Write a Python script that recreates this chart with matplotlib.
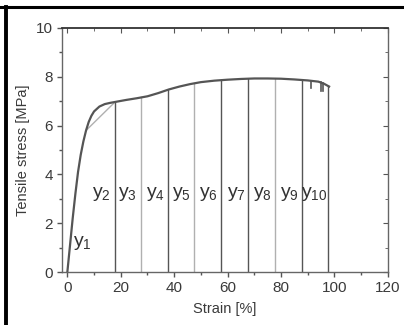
import matplotlib
matplotlib.use("Agg")
import matplotlib.pyplot as plt
import numpy as np

# stress-strain curve
strain = [0, 1, 2, 3, 4, 5, 6, 7, 8, 9, 10, 12, 14, 16, 18, 22, 26, 30,
          34, 38, 42, 46, 50, 55, 60, 65, 70, 75, 80, 85, 90, 94, 96, 98]
stress = [0, 1.1, 2.2, 3.2, 4.1, 4.8, 5.35, 5.8, 6.15, 6.4, 6.58, 6.78, 6.88,
          6.93, 6.97, 7.05, 7.12, 7.2, 7.33, 7.48, 7.6, 7.7, 7.78, 7.84, 7.88,
          7.91, 7.93, 7.93, 7.92, 7.89, 7.85, 7.8, 7.72, 7.6]

# straight fit across the knee
chord_x = [7, 17.7]
chord_y = [5.8, 6.95]

# segment boundaries, and whether each is drawn dark
bounds = [17.7, 27.7, 37.5, 47.5, 57.7, 67.7, 77.7, 87.7, 97.7]
dark = [True, False, True, False, True, True, False, True, True]

# small drops near the end of the test
drop_x = [91.3, 94.8, 95.7]
drop_y = [7.55, 7.42, 7.4]

seg_labels = ["y_{%d}" % i for i in range(1, 11)]
label_x = [2.3, 9.4, 19.0, 29.4, 39.0, 49.2, 59.6, 69.6, 79.8, 87.3]
label_y = [1.2, 3.2, 3.2, 3.2, 3.2, 3.2, 3.2, 3.2, 3.2, 3.2]

plt.rcParams["font.family"] = ["Liberation Sans", "DejaVu Sans"]
plt.rcParams["mathtext.fontset"] = "custom"
plt.rcParams["mathtext.rm"] = "Liberation Sans"
plt.rcParams["mathtext.it"] = "Liberation Sans"

fig = plt.figure(figsize=(4.04, 3.25), dpi=100)
ax = fig.add_axes([0.1535, 0.163, 0.8065, 0.751])

gray = "#555555"
light = "#b0b0b0"

for b, d in zip(bounds, dark):
    top = np.interp(b, strain, stress)
    ax.plot([b, b], [0, top], color=gray if d else light, lw=1.0, zorder=2)

for x, y in zip(drop_x, drop_y):
    ax.plot([x, x], [np.interp(x, strain, stress), y], color=gray, lw=1.2)

ax.plot(chord_x, chord_y, color=light, lw=1.0, zorder=2)
ax.plot(strain, stress, color=gray, lw=1.6, zorder=3)

for lab, x, y in zip(seg_labels, label_x, label_y):
    ax.text(x, y, r"$\mathregular{%s}$" % lab, fontsize=14, color="#333333",
            ha="left", va="center")

ax.set_xlim(-2, 120)
ax.set_ylim(0, 10)
ax.set_xticks(np.arange(0, 121, 20))
ax.set_xticks(np.arange(10, 120, 20), minor=True)
ax.set_yticks(np.arange(0, 11, 2))
ax.set_yticks(np.arange(1, 10, 2), minor=True)
ax.tick_params(which="both", direction="out", colors="#555555",
               labelcolor="#3a3a3a", labelsize=11, width=1.0)
ax.tick_params(which="major", length=3.5)
ax.tick_params(which="minor", length=2)
ax.tick_params(axis="x", pad=3)
ax.tick_params(axis="y", pad=3)

# mirrored ticks on top and right, pointing inward
ax2 = ax.secondary_xaxis("top")
ax2.set_xticks(np.arange(0, 121, 20))
ax2.set_xticks(np.arange(10, 120, 20), minor=True)
ax2.tick_params(which="both", direction="in", labeltop=False, colors="#555555")
ax2.tick_params(which="major", length=3.5)
ax2.tick_params(which="minor", length=2)
ax3 = ax.secondary_yaxis("right")
ax3.set_yticks(np.arange(0, 11, 2))
ax3.set_yticks(np.arange(1, 10, 2), minor=True)
ax3.tick_params(which="both", direction="in", labelright=False, colors="#555555")
ax3.tick_params(which="major", length=3.5)
ax3.tick_params(which="minor", length=2)

for s in ax.spines.values():
    s.set_color("#666666")
    s.set_linewidth(1.0)
ax.spines["top"].set_color("#333333")
ax.spines["top"].set_linewidth(1.3)
ax2.spines["top"].set_visible(False)
ax3.spines["right"].set_visible(False)

ax.set_xlabel("Strain [%]", fontsize=10.5, color="#3a3a3a", labelpad=5)
ax.set_ylabel("Tensile stress [MPa]", fontsize=10.5, color="#3a3a3a", labelpad=4)

# black frame lines at the top and left of the image
fig.add_artist(plt.Line2D([0.0, 1.0], [1 - 7 / 325, 1 - 7 / 325],
                          transform=fig.transFigure, color="black", lw=2.2))
fig.add_artist(plt.Line2D([5.5 / 404, 5.5 / 404], [0, 1 - 7 / 325],
                          transform=fig.transFigure, color="black", lw=2.8))

fig.savefig("out.png", dpi=100)
